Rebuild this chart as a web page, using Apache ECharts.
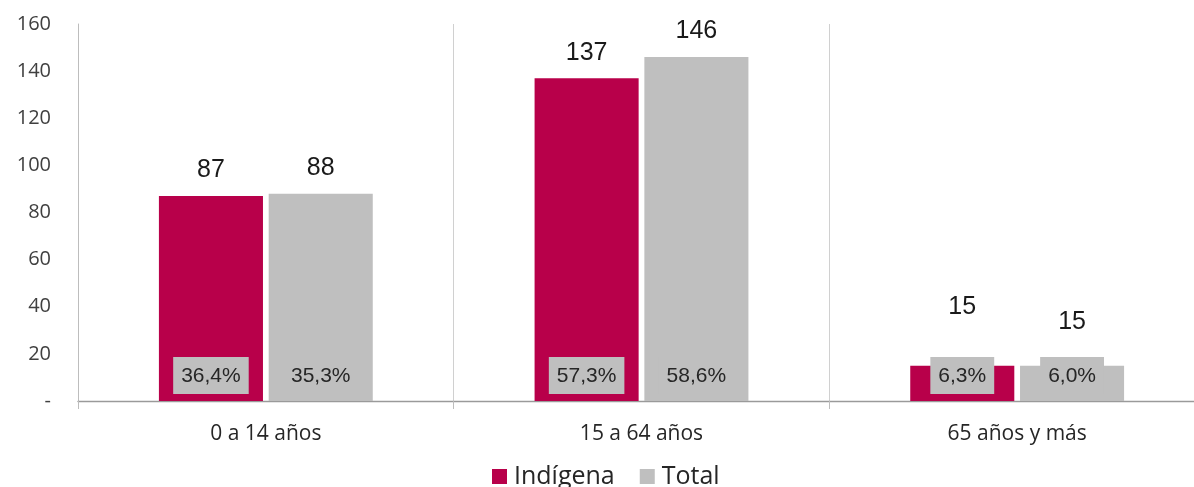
<!DOCTYPE html>
<html><head><meta charset="utf-8">
<script src="https://cdn.jsdelivr.net/npm/echarts@6/dist/echarts.min.js"></script>
<style>html,body{margin:0;padding:0;background:#fff;overflow:hidden}#c{width:1212px;height:487px}</style>
</head><body><div id="c"></div>
<script>
const categories = ['0 a 14 años', '15 a 64 años', '65 años y más'];
const indigena = [87, 137, 15];
const total = [88, 146, 15];
const indigenaPct = ['36,4%', '57,3%', '6,3%'];
const totalPct = ['35,3%', '58,6%', '6,0%'];
const yTicks = [0, 20, 40, 60, 80, 100, 120, 140, 160];

const narrow = '"Liberation Sans Narrow", "Arial Narrow", "Liberation Sans", sans-serif';
const sans = '"Open Sans", "Noto Sans", sans-serif';
const RED = '#B8004A', GRAY = '#BFBFBF';
// label nudges for the small last group (as in the original layout)
const topOffsetsInd = [0, 0, -33];
const topOffsetsTot = [0, 0, -18];

function valData(vals, offs) {
  return vals.map((v, i) => ({ value: v, label: { offset: [0, offs[i]] } }));
}
function pctData(vals, pcts) {
  return vals.map((v, i) => ({ value: v, pct: pcts[i] }));
}
const barCommon = { barWidth: '27.7%', barGap: '5.5%' };
const topLabel = { show: true, position: 'top', distance: 13, fontFamily: narrow, fontSize: 25, color: '#1a1a1a' };
const pctLabel = {
  show: true, position: 'insideBottom', distance: 7,
  formatter: p => p.data.pct,
  backgroundColor: GRAY, padding: [7, 8, 6, 8],
  fontFamily: narrow, fontSize: 21, color: '#262626', lineHeight: 24
};

const chart = echarts.init(document.getElementById('c'));
chart.setOption({
  animation: false,
  grid: { left: 78, top: 24, right: 7, bottom: 86, containLabel: false },
  legend: {
    data: ['Indígena', 'Total'], left: 487, bottom: -7,
    itemWidth: 15, itemHeight: 15, itemGap: 25, icon: 'rect',
    textStyle: { fontSize: 25, color: '#262626', fontFamily: sans, padding: [0, 0, 0, 2] }
  },
  xAxis: [
    {
      type: 'category', data: categories,
      axisLine: { lineStyle: { color: '#9a9a9a', width: 1.3 } },
      axisTick: { show: true, length: 8, lineStyle: { color: '#bdbdbd' } },
      splitLine: { show: true, lineStyle: { color: '#d0d0d0', width: 1 } },
      axisLabel: { fontSize: 21, color: '#262626', margin: 23, fontFamily: sans }
    },
    { type: 'category', data: categories, show: false }
  ],
  yAxis: {
    type: 'value', min: 0, max: 160, interval: 20,
    axisLine: { show: true, lineStyle: { color: '#bdbdbd' } },
    axisTick: { show: false },
    splitLine: { show: false },
    axisLabel: {
      fontSize: 20, color: '#404040', margin: 27,
      fontFamily: sans,
      customValues: yTicks,
      formatter: v => v === 0 ? '-' : String(v)
    }
  },
  series: [
    Object.assign({ name: 'Indígena', type: 'bar', xAxisIndex: 0, data: valData(indigena, topOffsetsInd),
      itemStyle: { color: RED }, label: topLabel, z: 2 }, barCommon),
    Object.assign({ name: 'Total', type: 'bar', xAxisIndex: 0, data: valData(total, topOffsetsTot),
      itemStyle: { color: GRAY }, label: topLabel, z: 2 }, barCommon),
    Object.assign({ name: 'IndPct', type: 'bar', xAxisIndex: 1, data: pctData(indigena, indigenaPct),
      itemStyle: { color: 'rgba(0,0,0,0)' }, label: pctLabel, z: 3, silent: true }, barCommon),
    Object.assign({ name: 'TotPct', type: 'bar', xAxisIndex: 1, data: pctData(total, totalPct),
      itemStyle: { color: 'rgba(0,0,0,0)' }, label: pctLabel, z: 3, silent: true }, barCommon)
  ]
});
</script></body></html>
